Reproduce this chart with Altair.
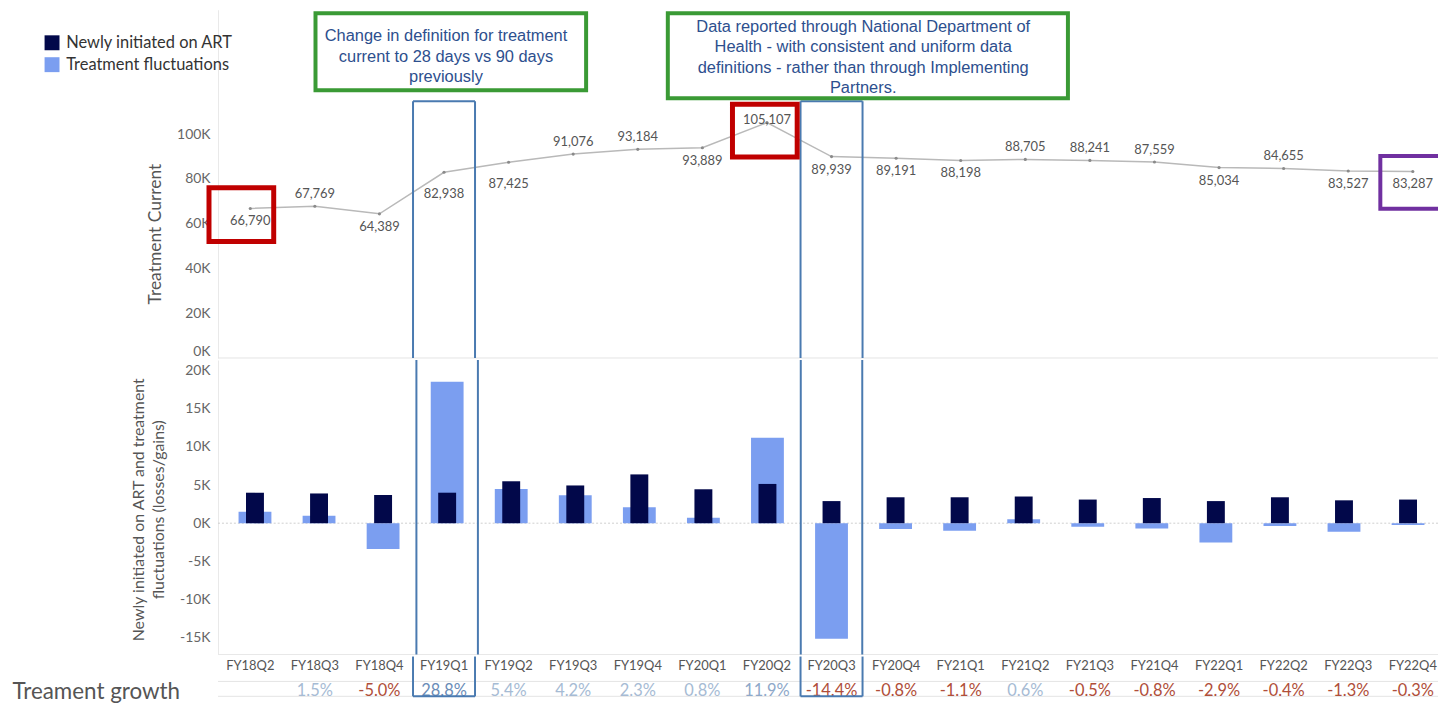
import altair as alt
import pandas as pd

# ---------------- data ----------------
quarters = ["FY18Q2", "FY18Q3", "FY18Q4", "FY19Q1", "FY19Q2", "FY19Q3", "FY19Q4",
            "FY20Q1", "FY20Q2", "FY20Q3", "FY20Q4", "FY21Q1", "FY21Q2", "FY21Q3",
            "FY21Q4", "FY22Q1", "FY22Q2", "FY22Q3", "FY22Q4"]
tx_curr = [66790, 67769, 64389, 82938, 87425, 91076, 93184, 93889, 105107, 89939,
           89191, 88198, 88705, 88241, 87559, 85034, 84655, 83527, 83287]
newly_initiated = [4000, 3900, 3700, 4000, 5500, 4950, 6400, 4450, 5150, 2900,
                   3400, 3400, 3500, 3100, 3300, 2900, 3400, 3000, 3100]
fluctuations = [1500, 979, -3380, 18549, 4487, 3651, 2108, 705, 11218, -15168,
                -748, -993, 507, -464, -682, -2525, -379, -1128, -240]
growth_pct = [None, 1.5, -5.0, 28.8, 5.4, 4.2, 2.3, 0.8, 11.9, -14.4,
              -0.8, -1.1, 0.6, -0.5, -0.8, -2.9, -0.4, -1.3, -0.3]
series_names = ["Newly initiated on ART", "Treatment fluctuations"]
highlight_quarters = ["FY19Q1", "FY20Q3"]

# label placement of the line values (style)
label_side = ["below", "above", "below", "below2", "below2", "above", "above", "below", "on",
              "below", "below", "below", "above", "above", "above", "below", "above", "below", "below"]

# annotation boxes and notes (data coordinates of the top panel)
box_x1 = [1.01, 6.465, -0.639, 7.466]
box_x2 = [5.20, 12.66, 0.363, 8.468]
box_y1 = [154000, 154000, 76000, 113300]
box_y2 = [119560, 116000, 52000, 89800]
box_color = ["#3a9a35", "#3a9a35", "#c00000", "#c00000"]
purple_box = {"x1": [17.497], "x2": [19.2], "y1": [90200], "y2": [66700]}
note_text = ["Change in definition for treatment\ncurrent to 28 days vs 90 days\npreviously",
             "Data reported through National Department of\nHealth - with consistent and uniform data\n"
             "definitions -  rather than through Implementing\nPartners."]
note_x = [3.03, 9.49]
note_y = [143600, 148000]

DARK = "#02084a"
LIGHT = "#7b9ef0"
BLUE = "#4a7ab0"
W = 1226

df = pd.DataFrame({
    "idx": list(range(len(quarters))),
    "quarter": quarters,
    "tx": tx_curr,
    "new": newly_initiated,
    "fluct": fluctuations,
    "growth": growth_pct,
    "side": label_side,
})
df["tx_label"] = [f"{v:,}" for v in tx_curr]
df["growth_label"] = ["" if g is None else f"{g:.1f}%" for g in growth_pct]

hl = pd.DataFrame({"quarter": highlight_quarters,
                   "idx": [quarters.index(q) for q in highlight_quarters]})

XS = alt.Scale(domain=[-0.5, 18.39], nice=False, zero=False)
YT = alt.Scale(domain=[0, 155560], nice=False, zero=False)
YB = alt.Scale(domain=[-17230, 21410], nice=False, zero=False)
YG = alt.Scale(domain=[0, 2], nice=False, zero=False)

top_axis = alt.Axis(values=[0, 20000, 40000, 60000, 80000, 100000],
                    labelExpr="datum.value / 1000 + 'K'", grid=False, ticks=False,
                    domainColor="#e9e9e9", labelPadding=8, labelFontSize=14,
                    labelColor="#666666", labelFlush=True,
                    title="Treatment Current", titleFontSize=17.5, titleColor="#555555",
                    titleFontWeight="normal", titleX=-63, titleY=225, titleBaseline="middle")
bot_axis = alt.Axis(values=[-15000, -10000, -5000, 0, 5000, 10000, 15000, 20000],
                    labelExpr="datum.value / 1000 + 'K'", grid=False, ticks=False,
                    domainColor="#e9e9e9", labelPadding=8, labelFontSize=14,
                    labelColor="#666666",
                    title=["Newly initiated on ART and treatment", "fluctuations (losses/gains)"],
                    titleFontSize=16, titleColor="#555555", titleFontWeight="normal",
                    titleLineHeight=20, titleX=-80, titleY=150, titleBaseline="middle")
growth_axis = alt.Axis(values=[0.25], labelExpr="'Treament growth'", labelAlign="left",
                       labelPadding=207, labelFontSize=22.5, labelColor="#555555", labelLimit=400,
                       ticks=False, tickSize=0, domain=False, grid=False, title=None)


def X(f):
    return alt.X(f, type="quantitative", scale=XS, axis=None)


def Yt(f):
    return alt.Y(f, type="quantitative", scale=YT, axis=top_axis)


def Yb(f):
    return alt.Y(f, type="quantitative", scale=YB, axis=bot_axis)


def Yg(f):
    return alt.Y(f, type="quantitative", scale=YG, axis=growth_axis)


color_scale = alt.Scale(domain=series_names, range=[DARK, LIGHT])
legend_def = alt.Legend(orient="none", legendX=-175, legendY=25, title=None,
                        symbolType="square", symbolSize=225, symbolStrokeWidth=0,
                        labelFontSize=16.5, labelColor="#333333", labelOffset=6, labelLimit=300,
                        rowPadding=5, direction="vertical", padding=0)

# ---------------- top panel ----------------
sep_top = alt.Chart(pd.DataFrame({"v": [0]})).mark_rule(color="#e4e4e4").encode(y=Yt("v"))
line = alt.Chart(df).mark_line(color="#b9b9b9", strokeWidth=1.5).encode(x=X("idx"), y=Yt("tx"))
pts = alt.Chart(df).mark_circle(size=10, color="#8a8a8a", opacity=1).encode(x=X("idx"), y=Yt("tx"))
txt_layers = []
for side, dy in [("above", -12), ("below", 13), ("below2", 22), ("on", -3)]:
    txt_layers.append(
        alt.Chart(df).transform_filter(f"datum.side == '{side}'").mark_text(
            dy=dy, fontSize=13, color="#555555", font="Lato").encode(
            x=X("idx"), y=Yt("tx"), text="tx_label:N"))

hl_top = alt.Chart(hl).transform_calculate(x1="datum.idx - 0.48", x2="datum.idx + 0.48",
                                           top="114700", bottom="0")
hl_t1 = hl_top.mark_rule(color=BLUE, strokeWidth=2).encode(x=X("x1"), y=Yt("top"), y2="bottom:Q")
hl_t2 = hl_top.mark_rule(color=BLUE, strokeWidth=2).encode(x=X("x2"), y=Yt("top"), y2="bottom:Q")
hl_t3 = hl_top.mark_rule(color=BLUE, strokeWidth=2).encode(x=X("x1"), x2="x2:Q", y=Yt("top"))

ann = pd.DataFrame({"x1": box_x1, "x2": box_x2, "y1": box_y1, "y2": box_y2, "color": box_color,
                    "w": [4, 4, 5, 5]})
ann_rects = alt.Chart(ann).mark_rect(fill="transparent").encode(
    x=X("x1"), x2="x2:Q", y=Yt("y1"), y2="y2:Q",
    stroke=alt.Stroke("color:N", scale=None), strokeWidth=alt.StrokeWidth("w:Q", scale=None))
purple = alt.Chart(pd.DataFrame(purple_box)).mark_rect(
    fill="transparent", stroke="#7030a0", strokeWidth=4, clip=True).encode(
    x=X("x1"), x2="x2:Q", y=Yt("y1"), y2="y2:Q")
notes = alt.Chart(pd.DataFrame({"text": note_text, "x": note_x, "y": note_y})).mark_text(
    lineBreak="\n", lineHeight=20.6, font="Liberation Sans", fontSize=16.5, color="#2d4f8e",
    align="center", baseline="middle").encode(x=X("x"), y=Yt("y"), text="text:N")

top = alt.layer(sep_top, line, pts, *txt_layers, hl_t1, hl_t2, hl_t3, ann_rects, purple, notes
                ).properties(width=W, height=350)

# ---------------- bottom panel ----------------
zero_rule = alt.Chart(pd.DataFrame({"v": [0]})).mark_rule(
    color="#cfcfcf", strokeDash=[2, 2]).encode(y=Yb("v"))
sep_bot = alt.Chart(pd.DataFrame({"v": [-17230]})).mark_rule(color="#e8e8e8").encode(y=Yb("v"))
bars_f = alt.Chart(df).transform_calculate(series=f"'{series_names[1]}'").mark_bar(size=33).encode(
    x=X("idx"), y=Yb("fluct"), y2=alt.datum(0),
    color=alt.Color("series:N", scale=color_scale, legend=legend_def))
bars_n = alt.Chart(df).transform_calculate(series=f"'{series_names[0]}'").mark_bar(size=18).encode(
    x=X("idx"), y=Yb("new"), y2=alt.datum(0),
    color=alt.Color("series:N", scale=color_scale, legend=legend_def))
hl_mid = alt.Chart(hl).transform_calculate(x1="datum.idx - 0.48", x2="datum.idx + 0.48")
hl_b1 = hl_mid.mark_rule(color=BLUE, strokeWidth=2).encode(x=X("x1"))
hl_b2 = hl_mid.mark_rule(color=BLUE, strokeWidth=2).encode(x=X("x2"))

bottom = alt.layer(zero_rule, sep_bot, bars_f, bars_n, hl_b1, hl_b2).properties(width=W, height=296)

# ---------------- growth row ----------------
g_lines = alt.Chart(pd.DataFrame({"v": [0.75, 0]})).mark_rule(color="#e4e4e4").encode(y=Yg("v"))
q_text = alt.Chart(df).transform_calculate(row="1.5").mark_text(
    fontSize=13, color="#555555", font="Lato").encode(x=X("idx"), y=Yg("row"), text="quarter:N")
g_text = alt.Chart(df).transform_filter("isValid(datum.growth)").transform_calculate(
    row="0.25",
    gcol="datum.growth < 0 ? '#b04e39' : (datum.growth > 20 ? '#6a8cb7' : (datum.growth > 10 ? '#8ea8c9' : '#a6bbd4'))"
).mark_text(fontSize=16.5, font="Lato").encode(
    x=X("idx"), y=Yg("row"), text="growth_label:N", color=alt.Color("gcol:N", scale=None))
hl_g = alt.Chart(hl).transform_calculate(x1="datum.idx - 0.48", x2="datum.idx + 0.48", bottom="0")
hl_g1 = hl_g.mark_rule(color=BLUE, strokeWidth=2).encode(x=X("x1"))
hl_g2 = hl_g.mark_rule(color=BLUE, strokeWidth=2).encode(x=X("x2"))
hl_g3 = hl_g.mark_rule(color=BLUE, strokeWidth=2).encode(x=X("x1"), x2="x2:Q", y=Yg("bottom"))

growth = alt.layer(g_lines, q_text, g_text, hl_g1, hl_g2, hl_g3).properties(width=W, height=40)

chart = alt.vconcat(top, bottom, growth, spacing=0).properties(
    padding={"left": 4, "top": 0, "right": 0, "bottom": 0}
).configure_view(strokeWidth=0).configure_axis(
    labelFont="Lato", titleFont="Lato").configure_legend(labelFont="Lato")

chart.save("out.html", embed_options={"renderer": "svg", "actions": False})
